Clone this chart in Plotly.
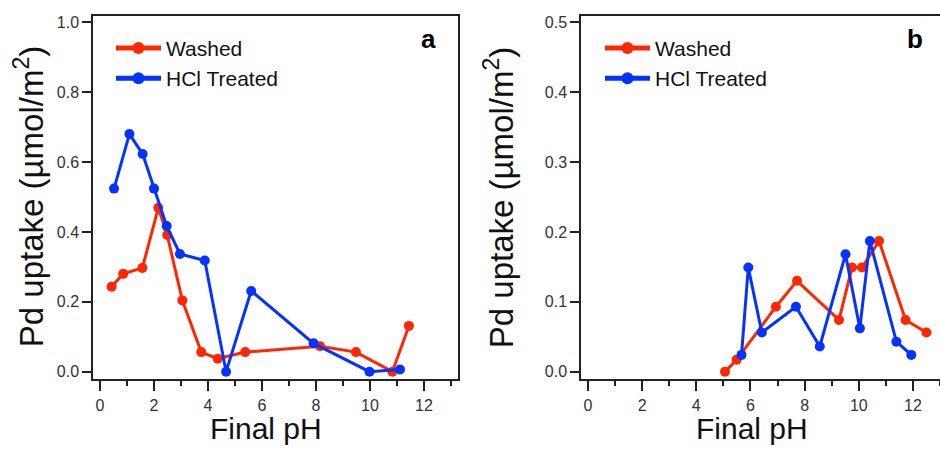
import plotly.graph_objects as go

# Panel a data
a_washed_ph = [0.43, 0.86, 1.57, 2.16, 2.49, 3.05, 3.75, 4.36, 5.38, 8.15, 9.48, 10.83, 11.44]
a_washed_up = [0.243, 0.280, 0.297, 0.469, 0.391, 0.204, 0.056, 0.037, 0.056, 0.073, 0.056, 0.0, 0.131]
a_hcl_ph = [0.52, 1.09, 1.58, 2.00, 2.47, 2.96, 3.88, 4.67, 5.60, 7.91, 9.98, 11.11]
a_hcl_up = [0.524, 0.680, 0.623, 0.524, 0.417, 0.337, 0.318, 0.0, 0.231, 0.081, 0.0, 0.006]

# Panel b data
b_washed_ph = [5.06, 5.49, 6.94, 7.72, 9.27, 9.75, 10.12, 10.75, 11.73, 12.50]
b_washed_up = [0.0, 0.017, 0.093, 0.130, 0.074, 0.149, 0.149, 0.187, 0.074, 0.056]
b_hcl_ph = [5.67, 5.92, 6.42, 7.68, 8.56, 9.51, 10.04, 10.41, 11.39, 11.94]
b_hcl_up = [0.024, 0.149, 0.056, 0.093, 0.036, 0.168, 0.062, 0.187, 0.043, 0.024]

x_ticks = [0, 2, 4, 6, 8, 10, 12]
a_y_ticks = [0.0, 0.2, 0.4, 0.6, 0.8, 1.0]
b_y_ticks = [0.0, 0.1, 0.2, 0.3, 0.4, 0.5]

RED = "#FF2600"
BLUE = "#0433FF"
FONT = "Liberation Sans, Arial, Helvetica, sans-serif"
AX = "#222222"

fig = go.Figure()

def add(x, y, name, color, xa, ya, legend):
    fig.add_trace(go.Scatter(
        x=x, y=y, name=name, mode="lines+markers",
        line=dict(color=color, width=3),
        marker=dict(color=color, size=10),
        xaxis=xa, yaxis=ya, legend=legend,
    ))

add(a_washed_ph, a_washed_up, "Washed", RED, "x", "y", "legend")
add(a_hcl_ph, a_hcl_up, "HCl Treated", BLUE, "x", "y", "legend")
add(b_washed_ph, b_washed_up, "Washed", RED, "x2", "y2", "legend2")
add(b_hcl_ph, b_hcl_up, "HCl Treated", BLUE, "x2", "y2", "legend2")

W, H = 940, 449
top_px, bot_px = 14, 380
ydom = [(H - bot_px) / H, (H - top_px) / H]

xcommon = dict(
    tickmode="array", tickvals=x_ticks, ticks="outside", ticklen=11, tickwidth=1.5,
    tickcolor=AX, showline=True, linecolor=AX, linewidth=1.5, showgrid=False,
    zeroline=False, tickfont=dict(family=FONT, size=16, color="#333333"),
    minor=dict(dtick=1, tick0=0, ticks="outside", ticklen=6, tickwidth=1.5, tickcolor=AX, showgrid=False),
)
ycommon = dict(
    ticks="outside", ticklen=9, tickwidth=1.5, tickcolor=AX, showline=True,
    linecolor=AX, linewidth=1.5, showgrid=False, zeroline=False,
    tickfont=dict(family=FONT, size=16, color="#333333"), tickmode="array",
)

legcommon = dict(xanchor="left", yanchor="top", bgcolor="rgba(0,0,0,0)",
                 font=dict(family=FONT, size=21, color="#111111"),
                 itemwidth=45, tracegroupgap=0, itemsizing="constant")

fig.update_layout(
    width=W, height=H,
    margin=dict(l=0, r=0, t=0, b=0),
    paper_bgcolor="white", plot_bgcolor="white",
    font=dict(family=FONT, color="#111111"),
    xaxis=dict(domain=[93 / W, 458 / W], range=[-0.259, 13.259], mirror=True, anchor="y", **xcommon),
    yaxis=dict(domain=ydom, range=[-0.0199, 1.0184], mirror=True, anchor="x",
               tickvals=a_y_ticks, ticktext=[f"{v:.1f}" for v in a_y_ticks], **ycommon),
    xaxis2=dict(domain=[581 / W, 1.0], range=[-0.258, 13.0], mirror=True, anchor="y2", **xcommon),
    yaxis2=dict(domain=ydom, range=[-0.00993, 0.5092], mirror=False, anchor="x2",
                tickvals=b_y_ticks, ticktext=[f"{v:.1f}" for v in b_y_ticks], **ycommon),
    legend=dict(x=111 / W, y=1 - 26 / H, **legcommon),
    legend2=dict(x=600 / W, y=1 - 26 / H, **legcommon),
    showlegend=True,
)

ann = []
for cx in (266, 752):
    ann.append(dict(text="Final pH", x=cx / W, y=1 - 430 / H, xref="paper", yref="paper",
                    showarrow=False, font=dict(family=FONT, size=30, color="#111111"),
                    xanchor="center", yanchor="middle"))
for cx in (29, 499):
    ann.append(dict(text="Pd uptake (µmol/m<sup>2</sup>)", x=cx / W, y=1 - 197 / H,
                    xref="paper", yref="paper", showarrow=False, textangle=-90,
                    font=dict(family=FONT, size=33, color="#111111"),
                    xanchor="center", yanchor="middle"))
for lab, cx in (("a", 428), ("b", 915)):
    ann.append(dict(text=f"<b>{lab}</b>", x=cx / W, y=1 - 37 / H, xref="paper", yref="paper",
                    showarrow=False, font=dict(family=FONT, size=26, color="#000000"),
                    xanchor="center", yanchor="middle"))
fig.update_layout(annotations=ann)

fig.write_html("out.html")
